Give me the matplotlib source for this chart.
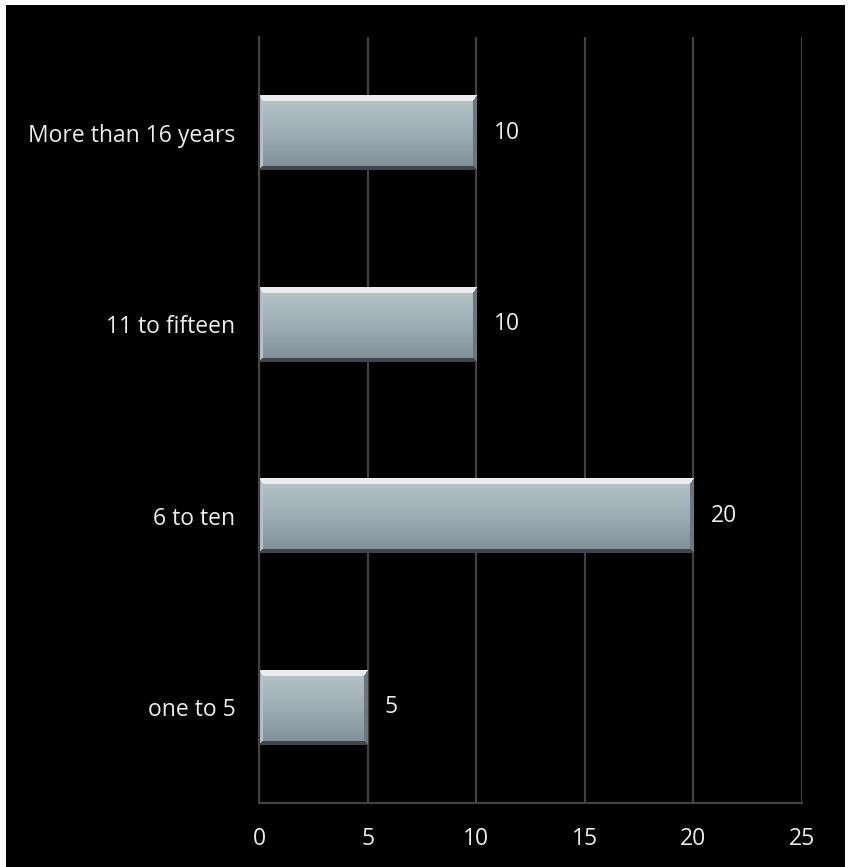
import numpy as np
import matplotlib
matplotlib.use("Agg")
import matplotlib.pyplot as plt

categories = ["one to 5", "6 to ten", "11 to fifteen", "More than 16 years"]
values = [5, 20, 10, 10]
x_ticks = [0, 5, 10, 15, 20, 25]

W, H, DPI = 849, 867, 100
FONT = "Open Sans"
FSIZE = 16.5
TEXT = "#ececec"
GRID = "#424242"

fig = plt.figure(figsize=(W / DPI, H / DPI), dpi=DPI, facecolor="white")
# black panel inside a thin white frame
panel = plt.Rectangle((6 / W, 0), (845 - 6) / W, (H - 5) / H,
                      transform=fig.transFigure, facecolor="black",
                      edgecolor="none", zorder=-10)
fig.patches.append(panel)

ax_left, ax_right, ax_top, ax_bottom = 259, 802, 37, 803
ax = fig.add_axes([ax_left / W, 1 - ax_bottom / H,
                   (ax_right - ax_left) / W, (ax_bottom - ax_top) / H])
ax.set_facecolor("none")
ax.set_zorder(1)

ypos = np.arange(len(categories))
bar_h = 0.39
bars = ax.barh(ypos, values, height=bar_h, color="none", edgecolor="none", zorder=3)

ax.set_xlim(x_ticks[0], x_ticks[-1])
ax.set_ylim(-0.5, len(categories) - 0.5)


def bevel_image(px_w, px_h):
    """RGB array for a bevelled, brushed-steel looking bar."""
    px_w, px_h = max(int(round(px_w)), 2), max(int(round(px_h)), 2)
    yy, xx = np.mgrid[0:px_h, 0:px_w].astype(float)
    d_top = yy
    d_bot = px_h - 1 - yy
    d_left = xx
    d_right = px_w - 1 - xx
    t = (yy / (px_h - 1))[..., None]

    # body: light steel at the top fading to a darker blue-grey
    top_c = np.array([0.72, 0.77, 0.79])
    mid_c = np.array([0.62, 0.68, 0.71])
    bot_c = np.array([0.50, 0.56, 0.59])
    img = np.where(t < 0.5,
                   top_c + (mid_c - top_c) * (t / 0.5),
                   mid_c + (bot_c - mid_c) * ((t - 0.5) / 0.5))

    bt, bb, bs = 6.0, 4.0, 4.0
    stack = np.stack([d_top / bt, d_bot / bb, d_left / bs, d_right / bs])
    nearest = np.argmin(stack, axis=0)
    inside = np.min(stack, axis=0) < 1.0

    hi = np.array([0.92, 0.93, 0.93])
    lo = np.array([0.25, 0.28, 0.30])
    side_l = np.array([0.72, 0.76, 0.78])
    side_r = np.array([0.42, 0.47, 0.49])
    for k, col in enumerate([hi, lo, side_l, side_r]):
        m = inside & (nearest == k)
        img[m] = col
    return np.clip(img, 0, 1)


px_per_x = (ax_right - ax_left) / (x_ticks[-1] - x_ticks[0])
px_per_y = (ax_bottom - ax_top) / len(categories)
for rect, v in zip(bars.patches, values):
    x0, y0 = rect.get_x(), rect.get_y()
    w, h = rect.get_width(), rect.get_height()
    img = bevel_image(w * px_per_x, h * px_per_y)
    im = ax.imshow(img, extent=(x0, x0 + w, y0, y0 + h), origin="upper",
                   aspect="auto", interpolation="bilinear", zorder=2)
    im.set_clip_path(rect)

ax.set_xlim(x_ticks[0], x_ticks[-1])
ax.set_ylim(-0.5, len(categories) - 0.5)

ax.set_yticks(ypos)
ax.set_yticklabels(categories)
ax.set_xticks(x_ticks)
ax.set_xticklabels([str(t) for t in x_ticks])
ax.tick_params(axis="y", length=0, pad=17, labelsize=FSIZE, labelcolor=TEXT)
ax.tick_params(axis="x", length=0, pad=17, labelsize=FSIZE, labelcolor=TEXT)
for lab in ax.get_xticklabels() + ax.get_yticklabels():
    lab.set_fontfamily(FONT)

ax.grid(axis="x", color=GRID, linewidth=1.6, zorder=0)
ax.grid(axis="y", visible=False)
ax.set_axisbelow(True)
for side in ("top", "right"):
    ax.spines[side].set_visible(False)
for side in ("left", "bottom"):
    ax.spines[side].set_color(GRID)
    ax.spines[side].set_linewidth(1.6)

for b, v in zip(bars.patches, values):
    ax.annotate(str(v), xy=(b.get_width(), b.get_y() + b.get_height() / 2),
                xytext=(12.5, 0), textcoords="offset points",
                ha="left", va="center", color=TEXT, fontsize=FSIZE,
                fontfamily=FONT)

fig.savefig("out.png", dpi=DPI, facecolor="white")
